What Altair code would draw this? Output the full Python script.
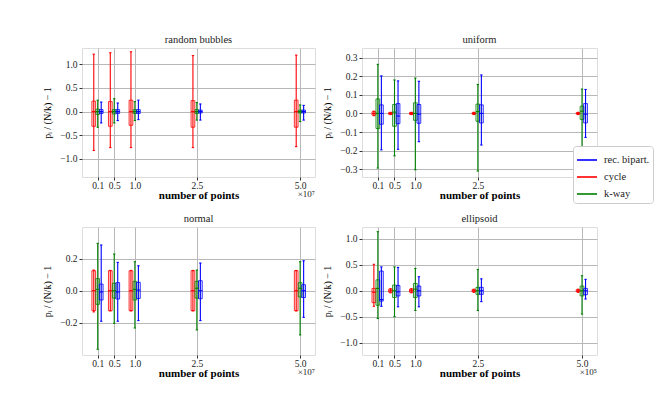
import altair as alt
import pandas as pd

n_points = [0.1, 0.5, 1.0, 2.5, 5.0]
series_names = ["rec. bipart.", "cycle", "k-way"]
series_colors = ["#0000ff", "#ff0000", "#008000"]

# each entry: [whisker_low, q1, median, q3, whisker_high] for n = 0.1, 0.5, 1.0, 2.5, 5.0
rb_cycle = [[-0.82, -0.31, 0.0, 0.22, 1.21], [-0.76, -0.31, 0.0, 0.21, 1.24], [-0.76, -0.29, 0.0, 0.24, 1.26],
            [-0.76, -0.33, 0.0, 0.23, 1.18], [-0.74, -0.33, 0.0, 0.24, 1.19]]
rb_kway = [[-0.33, -0.06, 0.0, 0.05, 0.24], [-0.24, -0.05, 0.0, 0.04, 0.27], [-0.19, -0.04, 0.0, 0.04, 0.21],
           [-0.18, -0.04, 0.0, 0.04, 0.19], [-0.21, -0.03, 0.0, 0.03, 0.14]]
rb_rec = [[-0.24, -0.04, 0.0, 0.04, 0.20], [-0.19, -0.04, 0.0, 0.04, 0.18], [-0.17, -0.04, 0.0, 0.04, 0.24],
          [-0.18, -0.03, 0.0, 0.03, 0.16], [-0.18, -0.03, 0.0, 0.03, 0.13]]

un_cycle = [[-0.012, -0.009, 0.0, 0.009, 0.012], [-0.006, -0.005, 0.0, 0.005, 0.006], [-0.006, -0.005, 0.0, 0.005, 0.006],
            [-0.006, -0.004, 0.0, 0.004, 0.006], [-0.006, -0.004, 0.0, 0.004, 0.006]]
un_kway = [[-0.294, -0.081, 0.0, 0.078, 0.264], [-0.228, -0.069, 0.007, 0.048, 0.18], [-0.303, -0.037, 0.0, 0.057, 0.19],
           [-0.31, -0.042, 0.01, 0.05, 0.156], [-0.18, -0.032, 0.012, 0.039, 0.131]]
un_rec = [[-0.196, -0.058, 0.0, 0.046, 0.202], [-0.193, -0.055, -0.014, 0.053, 0.175], [-0.152, -0.053, -0.004, 0.048, 0.173],
          [-0.17, -0.051, 0.0, 0.046, 0.207], [-0.129, -0.051, -0.004, 0.053, 0.129]]

no_cycle = [[-0.132, -0.124, 0.0, 0.124, 0.128], [-0.126, -0.124, 0.0, 0.124, 0.126], [-0.126, -0.124, 0.0, 0.124, 0.126],
            [-0.126, -0.124, 0.0, 0.124, 0.126], [-0.126, -0.124, 0.0, 0.124, 0.126]]
no_kway = [[-0.364, -0.085, 0.008, 0.075, 0.294], [-0.203, -0.046, 0.0, 0.046, 0.228], [-0.232, -0.058, 0.008, 0.058, 0.18],
           [-0.244, -0.046, 0.015, 0.058, 0.128], [-0.275, -0.039, 0.015, 0.05, 0.18]]
no_rec = [[-0.19, -0.058, -0.008, 0.041, 0.284], [-0.19, -0.052, -0.008, 0.05, 0.176], [-0.186, -0.048, 0.004, 0.052, 0.155],
          [-0.186, -0.05, 0.0, 0.062, 0.172], [-0.166, -0.043, 0.0, 0.037, 0.186]]

el_cycle = [[-0.30, -0.23, -0.03, 0.045, 0.51], [-0.04, -0.03, 0.0, 0.03, 0.04], [-0.04, -0.03, 0.0, 0.03, 0.04],
            [-0.03, -0.02, 0.0, 0.02, 0.03], [-0.03, -0.02, 0.0, 0.02, 0.03]]
el_kway = [[-0.535, -0.28, 0.045, 0.21, 1.14], [-0.5, -0.13, 0.0, 0.11, 0.46], [-0.38, -0.13, 0.03, 0.14, 0.43],
           [-0.38, -0.07, 0.0, 0.065, 0.41], [-0.45, -0.1, 0.0, 0.09, 0.29]]
el_rec = [[-0.3, -0.2, -0.17, 0.38, 0.46], [-0.31, -0.1, -0.02, 0.1, 0.45], [-0.31, -0.1, 0.0, 0.09, 0.27],
          [-0.21, -0.07, 0.0, 0.065, 0.23], [-0.16, -0.077, 0.0, 0.045, 0.22]]

panels = {
    "random bubbles": {"cycle": rb_cycle, "k-way": rb_kway, "rec. bipart.": rb_rec},
    "uniform": {"cycle": un_cycle, "k-way": un_kway, "rec. bipart.": un_rec},
    "normal": {"cycle": no_cycle, "k-way": no_kway, "rec. bipart.": no_rec},
    "ellipsoid": {"cycle": el_cycle, "k-way": el_kway, "rec. bipart.": el_rec},
}

rows = []
for pname, ser in panels.items():
    for sname, stats in ser.items():
        for n, (lo, q1, med, q3, hi) in zip(n_points, stats):
            rows.append(dict(panel=pname, series=sname, n=n, lo=lo, q1=q1, med=med, q3=q3, hi=hi))
df = pd.DataFrame(rows)

FONT = "Liberation Serif"
YTITLE = "p\u1d62 / (N/k) \u2212 1"


def panel(name, w, h, ydom, yticks, exp_label, legend=False):
    d = df[df.panel == name]
    base = alt.Chart(d).transform_calculate(
        xc="datum.n + (datum.series === 'cycle' ? -0.095 : (datum.series === 'rec. bipart.' ? 0.085 : 0))"
    ).transform_calculate(
        xl="datum.xc - 0.045", xr="datum.xc + 0.045", cl="datum.xc - 0.028", cr="datum.xc + 0.028"
    )
    xs = alt.Scale(domain=[-0.28, 5.36], nice=False, zero=False)
    ys = alt.Scale(domain=ydom, nice=False, zero=False)
    cscale = alt.Scale(domain=series_names, range=series_colors)
    xaxis = alt.Axis(values=n_points, format=".1f", title="number of points", labelOverlap=False,
                     grid=True, gridColor="#b8b8b8", gridWidth=1, domain=False, tickSize=3,
                     tickColor="#333", labelPadding=0, titlePadding=0, titleFontWeight="bold",
                     titleFontSize=11, labelFontSize=9.5, titleFont=FONT, labelFont=FONT, titleColor="#000",
                     labelColor="#222")
    yaxis = alt.Axis(values=yticks, format=".1f", title=YTITLE, grid=True, gridColor="#b8b8b8",
                     gridWidth=1, domain=False, tickSize=3, tickColor="#333", labelPadding=2,
                     labelOverlap=False, labelFlush=False,
                     titlePadding=9, titleFontWeight="normal", titleFontSize=10, labelFontSize=9.5,
                     titleFont=FONT, labelFont=FONT, titleColor="#000", labelColor="#222",
                     minExtent=21, maxExtent=21)
    leg = None
    if legend:
        leg = alt.Legend(title=None, orient="none", legendX=491, legendY=98, symbolType="stroke",
                         symbolSize=400, symbolStrokeWidth=1.6, labelFont=FONT, labelFontSize=10.5,
                         strokeColor="#cccccc", fillColor="white", cornerRadius=3, padding=3,
                         rowPadding=-6, labelOffset=6, labelColor="#222")
    col = alt.Color("series:N", scale=cscale, legend=None)
    whisk = base.mark_rule(strokeWidth=1.1).encode(
        x=alt.X("xc:Q", scale=xs, axis=xaxis),
        y=alt.Y("lo:Q", scale=ys, axis=yaxis),
        y2="hi:Q",
        color=alt.Color("series:N", scale=cscale, legend=leg),
    )
    box = base.mark_rect(fillOpacity=0.06, strokeWidth=0.9, strokeOpacity=0.9).encode(
        x=alt.X("xl:Q", scale=xs, axis=xaxis), x2="xr:Q",
        y=alt.Y("q1:Q", scale=ys, axis=yaxis), y2="q3:Q",
        color=col,
        stroke=alt.Stroke("series:N", scale=cscale, legend=None),
    )
    med = base.mark_rule(strokeWidth=1.1).encode(
        x=alt.X("xl:Q", scale=xs, axis=xaxis), x2="xr:Q", y=alt.Y("med:Q", scale=ys, axis=yaxis),
        color=col,
    )
    cap_lo = base.mark_rule(strokeWidth=1.1).encode(
        x=alt.X("cl:Q", scale=xs, axis=xaxis), x2="cr:Q", y=alt.Y("lo:Q", scale=ys, axis=yaxis),
        color=col,
    )
    cap_hi = base.mark_rule(strokeWidth=1.1).encode(
        x=alt.X("cl:Q", scale=xs, axis=xaxis), x2="cr:Q", y=alt.Y("hi:Q", scale=ys, axis=yaxis),
        color=col,
    )
    exp = alt.Chart(pd.DataFrame({"t": [exp_label]})).mark_text(
        align="right", baseline="middle", font=FONT, fontSize=9, color="#222"
    ).encode(text="t:N", x=alt.value(w), y=alt.value(h + 17))
    return alt.layer(whisk, box, med, cap_lo, cap_hi, exp).properties(
        width=w, height=h,
        title=alt.TitleParams(name, font=FONT, fontSize=10.5, fontWeight="normal", offset=3, color="#222"),
    )


p1 = panel("random bubbles", 233, 129, [-1.38, 1.34], [-1.0, -0.5, 0.0, 0.5, 1.0], "\u00d710\u2077", legend=True)
p2 = panel("uniform", 235, 129, [-0.342, 0.352], [-0.3, -0.2, -0.1, 0.0, 0.1, 0.2, 0.3], "\u00d710\u2075")
p3 = panel("normal", 233, 128, [-0.40, 0.396], [-0.2, 0.0, 0.2], "\u00d710\u2077")
p4 = panel("ellipsoid", 235, 128, [-1.24, 1.23], [-1.0, -0.5, 0.0, 0.5, 1.0], "\u00d710\u2075")

chart = alt.vconcat(
    alt.hconcat(p1, p2, spacing=5),
    alt.hconcat(p3, p4, spacing=5),
    spacing=12,
).properties(
    padding={"left": 33, "top": 26, "right": 0, "bottom": 0}
).configure_view(
    stroke="#404040", strokeWidth=1.1
).configure(font=FONT)

chart.save("out.html", embed_options={"renderer": "svg", "actions": False})
